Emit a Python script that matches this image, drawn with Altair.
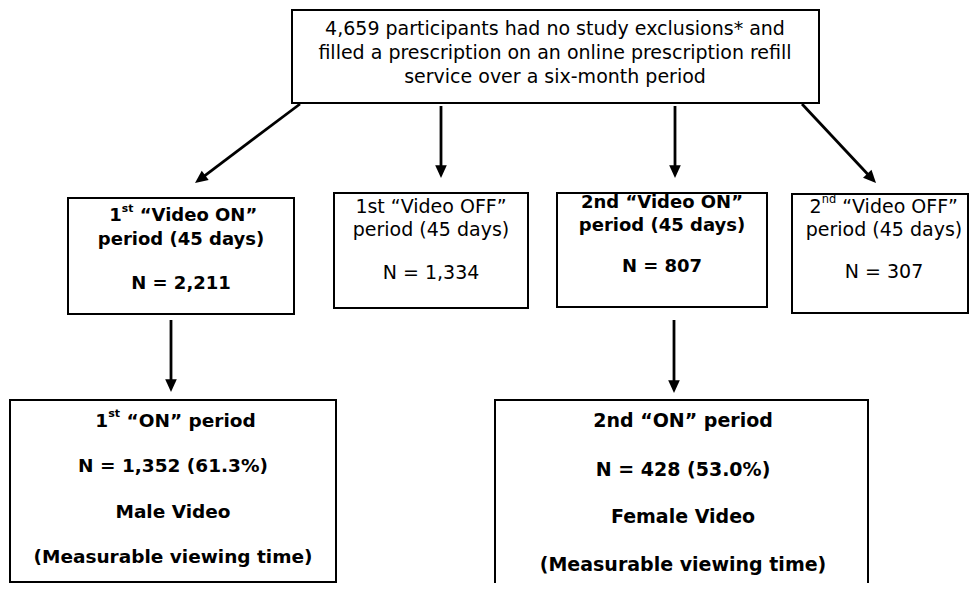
import altair as alt
import pandas as pd
import math

# ---------------- content (values / labels) ----------------
top_lines = [
    "4,659 participants had no study exclusions* and",
    "filled a prescription on an online prescription refill",
    "service over a six-month period",
]
box1_lines = [[("1", False), ("st", True), (" \u201cVideo ON\u201d", False)],
              [("period (45 days)", False)],
              [("N = 2,211", False)]]
box2_lines = [[("1st \u201cVideo OFF\u201d", False)],
              [("period (45 days)", False)],
              [("N = 1,334", False)]]
box3_lines = [[("2nd \u201cVideo ON\u201d", False)],
              [("period (45 days)", False)],
              [("N = 807", False)]]
box4_lines = [[("2", False), ("nd", True), (" \u201cVideo OFF\u201d", False)],
              [("period (45 days)", False)],
              [("N = 307", False)]]
box5_lines = [[("1", False), ("st", True), (" \u201cON\u201d period", False)],
              [("N = 1,352 (61.3%)", False)],
              [("Male Video", False)],
              [("(Measurable viewing time)", False)]]
box6_lines = [[("2nd \u201cON\u201d period", False)],
              [("N = 428 (53.0%)", False)],
              [("Female Video", False)],
              [("(Measurable viewing time)", False)]]

# ---------------- layout (pixel-space diagram coordinates) ----------------
FONT = "DejaVu Sans"
boxes = pd.DataFrame([
    dict(x=292, x2=819, y=10, y2=103),
    dict(x=68, x2=294, y=198, y2=314),
    dict(x=334, x2=528, y=193, y2=308),
    dict(x=557, x2=767, y=193, y2=307),
    dict(x=792, x2=968, y=194, y2=313),
    dict(x=10, x2=336, y=400, y2=582),
    dict(x=495, x2=868, y=400, y2=620),
])
arrows = [((300, 104), (195, 183)), ((441, 106), (441, 178)),
          ((675, 106), (675, 178)), ((802, 104), (876, 183)),
          ((171, 320), (171, 392)), ((674, 320), (674, 393))]

# text blocks: (lines, center x, center ys, bold, size)
blocks = [
    ([[(t, False)] for t in top_lines], 555, [29, 53, 77], False, 19),
    (box1_lines, 181, [216, 240, 284], True, 18),
    (box2_lines, 431, [207, 230, 273], False, 19),
    (box3_lines, 662, [203, 226, 267], True, 18),
    (box4_lines, 884, [207, 230, 272], False, 19),
    (box5_lines, 173, [421, 466, 512, 557], True, 18.5),
    (box6_lines, 683, [421, 470, 517, 565], True, 19),
]

# DejaVu Sans advance widths (em) for the glyphs in superscripted lines
REG = {"1": .636, "2": .636, "s": .521, "t": .392, "n": .634, "d": .635, " ": .318,
       "\u201c": .519, "\u201d": .519, "V": .684, "i": .278, "e": .615, "o": .612,
       "O": .787, "N": .748, "F": .575, "p": .635, "r": .411}
BOLD = {"1": .696, "2": .696, "s": .595, "t": .478, "n": .712, "d": .716, " ": .348,
        "\u201c": .521, "\u201d": .521, "V": .774, "i": .343, "e": .678, "o": .687,
        "O": .850, "N": .837, "F": .683, "p": .716, "r": .493}


def width(s, bold, size):
    tab = BOLD if bold else REG
    return sum(tab.get(c, .6) for c in s) * size


rows = []
for lines, cx, cys, bold, size in blocks:
    for parts, cy in zip(lines, cys):
        if len(parts) == 1:
            rows.append(dict(x=cx, y=cy, text=parts[0][0], kind="center", bold=bold, size=size))
        else:
            sup_size = round(size * 0.6, 1)
            widths = [width(t, bold, sup_size if sup else size) for t, sup in parts]
            x = cx - sum(widths) / 2
            for (t, sup), w in zip(parts, widths):
                s = sup_size if sup else size
                lead = len(t) - len(t.lstrip(" "))
                # SVG drops leading blanks, so step over them instead
                rows.append(dict(x=x + width(" " * lead, bold, s), y=cy, text=t.lstrip(" "),
                                 kind="sup" if sup else "left", bold=bold, size=s))
                x += w
texts = pd.DataFrame(rows)

# arrows: shafts + heads
shafts, heads = [], []
for (x1, y1), (x2, y2) in arrows:
    dx, dy = x2 - x1, y2 - y1
    L = math.hypot(dx, dy)
    ux, uy = dx / L, dy / L
    shafts.append(dict(x=x1, y=y1, x2=x2 - ux * 9, y2=y2 - uy * 9))
    heads.append(dict(x=x2, y=y2, ang=math.degrees(math.atan2(-dx, dy)) % 360))
shafts = pd.DataFrame(shafts)
heads = pd.DataFrame(heads)

XS = alt.Scale(domain=[8, 969], nice=False, zero=False)
YS = alt.Scale(domain=[8, 583], nice=False, zero=False, reverse=True)

rect_layer = alt.Chart(boxes).mark_rect(fill="white", stroke="black", strokeWidth=2, clip=True).encode(
    x=alt.X("x:Q", scale=XS, axis=None), x2="x2:Q",
    y=alt.Y("y:Q", scale=YS, axis=None), y2="y2:Q")

shaft_layer = alt.Chart(shafts).mark_rule(color="black", strokeWidth=2.8).encode(
    x=alt.X("x:Q", scale=XS, axis=None), x2="x2:Q",
    y=alt.Y("y:Q", scale=YS, axis=None), y2="y2:Q")

head_layer = alt.Chart(heads).mark_point(
    shape="M-1,-2.2L1,-2.2L0,0Z", size=135, filled=True, color="black", opacity=1, strokeWidth=0
).encode(
    x=alt.X("x:Q", scale=XS, axis=None),
    y=alt.Y("y:Q", scale=YS, axis=None),
    angle=alt.Angle("ang:Q", scale=None))

text_layers = []
for kind, align, dy in [("center", "center", 0), ("left", "left", 0), ("sup", "left", -7)]:
    for bold in (False, True):
        sub = texts[(texts.kind == kind) & (texts.bold == bold)]
        for size in sorted(sub["size"].unique()):
            d = sub[sub["size"] == size]
            text_layers.append(
                alt.Chart(d).mark_text(font=FONT, fontSize=float(size),
                                       fontWeight="bold" if bold else "normal",
                                       align=align, baseline="middle", dy=dy, color="black").encode(
                    x=alt.X("x:Q", scale=XS, axis=None),
                    y=alt.Y("y:Q", scale=YS, axis=None),
                    text="text:N"))

chart = alt.layer(rect_layer, shaft_layer, head_layer, *text_layers).properties(
    width=961, height=575, padding=0, background="white"
).configure_view(stroke=None)

chart.save("out.html", embed_options={"renderer": "svg", "actions": False})
